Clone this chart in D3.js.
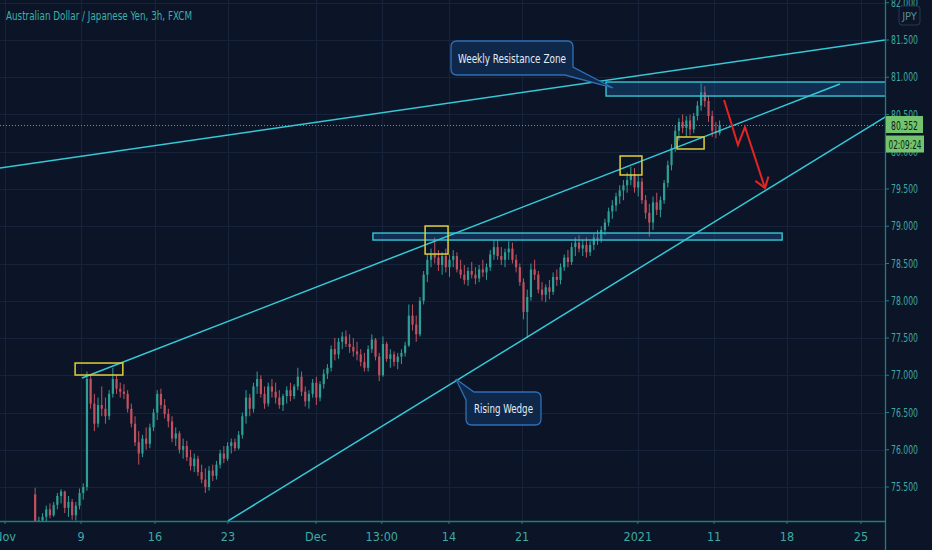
<!DOCTYPE html>
<html><head><meta charset="utf-8">
<script src="https://cdn.jsdelivr.net/npm/d3@7"></script>
<style>html,body{margin:0;padding:0;background:#0b1527;}svg{display:block}</style>
</head><body><svg id="c" width="932" height="550"></svg>
<script>
const title = "Australian Dollar / Japanese Yen, 3h, FXCM";
const currency = "JPY";
const lastPrice = 80.352;
const countdown = "02:09:24";

// OHLC (one bar per column of the picture)
const opens = [74.35,74.45,74.52,74.62,74.70,74.80,74.78,74.85,74.90,75.40,75.00,75.05,75.10,75.20,75.12,75.26,75.38,75.44,75.22,75.30,
75.12,75.25,75.42,75.50,76.95,76.62,76.35,76.60,76.55,76.45,76.75,76.95,76.82,76.78,76.75,76.55,76.35,76.10,75.95,76.15,
76.08,76.30,76.50,76.75,76.60,76.48,76.38,76.15,76.22,76.00,76.05,75.90,75.78,75.88,75.70,75.60,75.50,75.72,75.65,75.80,
75.95,75.88,76.05,76.10,76.02,76.20,76.45,76.70,76.55,76.85,76.95,76.75,76.62,76.85,76.78,76.70,76.60,76.72,76.80,76.72,
76.85,76.98,76.78,76.65,76.75,76.90,76.70,76.88,77.02,77.10,77.35,77.28,77.45,77.52,77.42,77.38,77.32,77.28,77.18,77.10,
77.35,77.48,77.25,77.00,77.42,77.22,77.28,77.18,77.25,77.30,77.40,77.80,77.68,77.55,78.00,78.35,78.55,78.62,78.58,78.48,
78.60,78.45,78.55,78.60,78.42,78.35,78.28,78.40,78.35,78.30,78.42,78.38,78.45,78.62,78.72,78.60,78.55,78.65,78.70,78.55,
78.45,78.25,77.85,78.05,78.42,78.35,78.15,78.08,78.18,78.12,78.32,78.28,78.45,78.58,78.52,78.72,78.78,78.70,78.75,78.65,
78.75,78.85,78.82,78.95,79.05,79.20,79.28,79.40,79.48,79.55,79.62,79.70,79.52,79.60,79.35,79.18,79.05,79.32,79.22,79.35,
79.58,79.82,80.05,80.28,80.40,80.32,80.42,80.30,80.48,80.62,80.80,80.68,80.48,80.28,80.25];
const highs = [74.55,74.60,74.70,74.75,74.85,74.90,74.92,74.95,74.98,75.49,75.10,75.15,75.25,75.28,75.30,75.42,75.47,75.45,75.38,75.34,
75.30,75.48,75.55,77.05,77.00,76.75,76.70,76.85,76.70,76.80,77.10,77.00,76.90,76.88,76.80,76.62,76.45,76.25,76.20,76.30,
76.35,76.55,76.80,76.82,76.68,76.55,76.45,76.30,76.25,76.15,76.12,76.00,75.95,75.92,75.80,75.75,75.78,75.80,75.85,76.00,
76.05,76.10,76.15,76.15,76.25,76.50,76.80,76.75,76.90,77.05,77.00,76.85,76.90,76.95,76.90,76.80,76.75,76.85,76.90,76.88,
77.10,77.05,76.85,76.80,76.95,76.98,76.92,77.08,77.15,77.40,77.50,77.50,77.58,77.60,77.55,77.50,77.45,77.35,77.30,77.40,
77.55,77.50,77.30,77.52,77.45,77.35,77.32,77.30,77.35,77.45,77.95,77.95,77.80,78.05,78.40,78.62,78.70,78.85,78.68,78.65,
78.70,78.62,78.68,78.65,78.55,78.48,78.45,78.52,78.45,78.48,78.55,78.50,78.68,78.82,78.82,78.72,78.70,78.80,78.78,78.62,
78.50,78.30,78.15,78.50,78.55,78.40,78.25,78.22,78.28,78.38,78.42,78.50,78.62,78.68,78.78,78.85,78.88,78.82,78.85,78.80,
78.90,78.95,79.00,79.10,79.25,79.35,79.45,79.55,79.62,79.72,79.80,79.78,79.68,79.65,79.42,79.30,79.40,79.45,79.40,79.62,
79.88,80.10,80.35,80.45,80.50,80.48,80.50,80.52,80.68,80.92,80.88,80.75,80.55,80.40,80.42];
const lows = [74.30,74.38,74.45,74.55,74.62,74.70,74.68,74.75,74.80,74.95,74.90,74.98,75.02,75.08,75.10,75.20,75.28,75.15,75.10,75.06,
75.05,75.20,75.33,75.45,76.55,76.25,76.30,76.45,76.35,76.40,76.70,76.75,76.70,76.68,76.50,76.30,76.05,75.80,75.90,76.00,
76.02,76.25,76.40,76.55,76.42,76.30,76.10,76.05,75.95,75.88,75.85,75.72,75.70,75.65,75.55,75.42,75.45,75.58,75.60,75.75,
75.82,75.85,75.95,75.98,76.00,76.15,76.35,76.45,76.50,76.75,76.70,76.55,76.58,76.70,76.62,76.55,76.52,76.62,76.65,76.68,
76.80,76.72,76.58,76.55,76.70,76.60,76.65,76.82,76.95,77.05,77.20,77.22,77.35,77.38,77.30,77.25,77.20,77.12,77.05,77.05,
77.30,77.20,76.92,76.98,77.18,77.10,77.12,77.08,77.15,77.25,77.38,77.60,77.45,77.52,77.95,78.25,78.45,78.50,78.40,78.35,
78.38,78.32,78.45,78.38,78.30,78.22,78.20,78.30,78.22,78.25,78.32,78.28,78.40,78.55,78.55,78.48,78.45,78.55,78.50,78.38,
78.20,77.75,77.50,78.00,78.28,78.10,78.00,77.98,78.02,78.08,78.20,78.22,78.40,78.45,78.48,78.60,78.65,78.60,78.58,78.60,
78.68,78.75,78.78,78.88,79.00,79.10,79.20,79.30,79.35,79.45,79.55,79.45,79.40,79.30,79.10,78.86,78.95,79.15,79.12,79.30,
79.52,79.75,80.00,80.15,80.25,80.20,80.22,80.25,80.42,80.55,80.60,80.40,80.20,80.18,80.22];
const closes = [74.45,74.52,74.62,74.70,74.80,74.78,74.85,74.90,74.92,75.00,75.05,75.10,75.20,75.12,75.26,75.38,75.44,75.22,75.30,75.12,
75.25,75.42,75.50,76.95,76.62,76.35,76.60,76.55,76.45,76.75,76.95,76.82,76.78,76.75,76.55,76.35,76.10,75.95,76.15,76.08,
76.30,76.50,76.75,76.60,76.48,76.38,76.15,76.22,76.00,76.05,75.90,75.78,75.88,75.70,75.60,75.50,75.72,75.65,75.80,75.95,
75.88,76.05,76.10,76.02,76.20,76.45,76.70,76.55,76.85,76.95,76.75,76.62,76.85,76.78,76.70,76.60,76.72,76.80,76.72,76.85,
76.98,76.78,76.65,76.75,76.90,76.70,76.88,77.02,77.10,77.35,77.28,77.45,77.52,77.42,77.38,77.32,77.28,77.18,77.10,77.35,
77.48,77.25,77.00,77.42,77.22,77.28,77.18,77.25,77.30,77.40,77.80,77.68,77.55,78.00,78.35,78.55,78.62,78.58,78.48,78.60,
78.45,78.55,78.60,78.42,78.35,78.28,78.40,78.35,78.30,78.42,78.38,78.45,78.62,78.72,78.60,78.55,78.65,78.70,78.55,78.45,
78.25,77.85,78.05,78.42,78.35,78.15,78.08,78.18,78.12,78.32,78.28,78.45,78.58,78.52,78.72,78.78,78.70,78.75,78.65,78.75,
78.85,78.82,78.95,79.05,79.20,79.28,79.40,79.48,79.55,79.62,79.70,79.52,79.60,79.35,79.18,79.05,79.32,79.22,79.35,79.58,
79.82,80.05,80.28,80.40,80.32,80.42,80.30,80.48,80.62,80.80,80.68,80.48,80.28,80.25,80.352];

const priceTicks = [75.5,76,76.5,77,77.5,78,78.5,79,79.5,80,80.5,81,81.5,82];
const dateTickPos = [0.85,21.4,41.4,61.1,84.9,102.7,120.85,140.6,171.9,192.5,212.2,232.2];
const dateTickLabels = ["Nov","9","16","23","Dec","13:00","14","21","2021","11","18","25"];

// drawings, in [bar, price]
const trendLines = [
  [[-0.5,79.782],[238.7,81.5]],
  [[21.66,76.963],[226.5,80.909]],
  [[61.12,75.044],[250,80.811]]
];
const zones = [
  {x0:100.3,x1:210.9,p0:78.909,p1:78.815},
  {x0:163.3,x1:245,p0:80.936,p1:80.748}
];
const boxes = [
  {x0:19.8,x1:32.7,p0:77.164,p1:77.003},
  {x0:114.4,x1:120.6,p0:79.003,p1:78.627},
  {x0:167.1,x1:173.0,p0:79.943,p1:79.688},
  {x0:182.5,x1:189.8,p0:80.198,p1:80.037}
];
const arrowPath = [[195.2,80.695],[198.96,80.091],[200.85,80.332],[206.26,79.513]];
const callouts = [
  {text:"Weekly Resistance Zone", tip:[165.2,80.856], tail:"br"},
  {text:"Rising Wedge", tip:[122.7,76.95], tail:"tl"}
];

const FONT = "'Liberation Sans Narrow','DejaVu Sans Condensed','Roboto Condensed',Roboto,sans-serif";
const BG = "#0b1527", GRID = "#16233a", AXIS = "#1f7f80", LBL = "#3fa9a4";
const CYAN = "#35c8d6", YEL = "#e0cf3a";
const UP = "#2e9f96", DN = "#c2515f";

const plotR = 885, plotB = 521;
const svg = d3.select("#c");
svg.append("rect").attr("width",932).attr("height",550).attr("fill",BG);

const x = d3.scaleLinear().domain([-0.5,238.7]).range([0,plotR]);
const y = d3.scaleLinear().domain([75.5,81.5]).range([487,40]);

svg.append("clipPath").attr("id","clip").append("rect").attr("x",0).attr("y",0).attr("width",plotR).attr("height",plotB);

// grid
const g = svg.append("g").attr("clip-path","url(#clip)");
g.selectAll(".hg").data(priceTicks).join("line")
  .attr("x1",0).attr("x2",plotR).attr("y1",d=>Math.round(y(d))+0.5).attr("y2",d=>Math.round(y(d))+0.5)
  .attr("stroke",GRID).attr("stroke-width",1);
g.selectAll(".vg").data(dateTickPos).join("line")
  .attr("y1",0).attr("y2",plotB).attr("x1",d=>Math.round(x(d))+0.5).attr("x2",d=>Math.round(x(d))+0.5)
  .attr("stroke",GRID).attr("stroke-width",1);

// candles
const bars = closes.map((c,i)=>({i,o:opens[i],h:highs[i],l:lows[i],c}));
const cg = g.append("g");
cg.selectAll(".w").data(bars).join("line")
  .attr("x1",d=>x(d.i)).attr("x2",d=>x(d.i)).attr("y1",d=>y(d.h)).attr("y2",d=>y(d.l))
  .attr("stroke",d=>d.c>=d.o?UP:DN).attr("stroke-width",1);
cg.selectAll(".b").data(bars).join("rect")
  .attr("x",d=>x(d.i)-1.1).attr("width",2.2)
  .attr("y",d=>y(Math.max(d.o,d.c)))
  .attr("height",d=>Math.max(1,Math.abs(y(d.o)-y(d.c))))
  .attr("fill",d=>d.c>=d.o?UP:DN);

// last price dotted line
g.append("line").attr("x1",0).attr("x2",plotR).attr("y1",y(lastPrice)).attr("y2",y(lastPrice))
  .attr("stroke","#9aa6b4").attr("stroke-width",1).attr("stroke-dasharray","1,2").attr("opacity",0.8);

// zones
g.selectAll(".z").data(zones).join("rect")
  .attr("x",d=>x(d.x0)).attr("width",d=>x(d.x1)-x(d.x0))
  .attr("y",d=>y(d.p0)).attr("height",d=>y(d.p1)-y(d.p0))
  .attr("fill","rgba(30,110,190,0.28)").attr("stroke",CYAN).attr("stroke-width",1.4);

// trend lines
g.selectAll(".tl").data(trendLines).join("line")
  .attr("x1",d=>x(d[0][0])).attr("y1",d=>y(d[0][1])).attr("x2",d=>x(d[1][0])).attr("y2",d=>y(d[1][1]))
  .attr("stroke",CYAN).attr("stroke-width",1.5);

// yellow boxes
g.selectAll(".yb").data(boxes).join("rect")
  .attr("x",d=>x(d.x0)).attr("width",d=>x(d.x1)-x(d.x0))
  .attr("y",d=>y(d.p0)).attr("height",d=>y(d.p1)-y(d.p0))
  .attr("fill","none").attr("stroke",YEL).attr("stroke-width",1.5);

// red arrow
const ap = arrowPath.map(p=>[x(p[0]),y(p[1])]);
g.append("path").attr("d",d3.line()(ap)).attr("fill","none").attr("stroke","#e42424").attr("stroke-width",2).attr("stroke-linejoin","miter");
{
  const t = ap[ap.length-1], p = ap[ap.length-2];
  const ang = Math.atan2(p[1]-t[1],p[0]-t[0]);
  const L = 12, a = 35*Math.PI/180;
  const w1 = [t[0]+L*Math.cos(ang+a), t[1]+L*Math.sin(ang+a)];
  const w2 = [t[0]+L*Math.cos(ang-a), t[1]+L*Math.sin(ang-a)];
  g.append("path").attr("d",d3.line()([w1,t,w2])).attr("fill","none").attr("stroke","#e42424").attr("stroke-width",2);
}

// callouts
function calloutPath(b, tip, side){
  const r=6, k=8, [x0,y0,x1,y1]=b;
  if(side==="br"){
    return `M${x0+r},${y0} H${x1-r} Q${x1},${y0} ${x1},${y0+r} V${y1-k} L${tip[0]},${tip[1]} L${x1-k},${y1} H${x0+r} Q${x0},${y1} ${x0},${y1-r} V${y0+r} Q${x0},${y0} ${x0+r},${y0} Z`;
  } else {
    return `M${x0+k},${y0} H${x1-r} Q${x1},${y0} ${x1},${y0+r} V${y1-r} Q${x1},${y1} ${x1-r},${y1} H${x0+r} Q${x0},${y1} ${x0},${y1-r} V${y0+k} L${tip[0]},${tip[1]} Z`;
  }
}
const co = [
  {box:[451,41,573,75], tw:108, base:63},
  {box:[466,392,541,425], tw:59, base:413}
];
callouts.forEach((c,i)=>{
  const tip=[x(c.tip[0]),y(c.tip[1])], b=co[i].box;
  svg.append("path").attr("d",calloutPath(b,tip,c.tail))
    .attr("fill","#0f2749").attr("stroke","#2f6fb8").attr("stroke-width",1.3);
  svg.append("text").attr("x",(b[0]+b[2])/2).attr("y",co[i].base).attr("text-anchor","middle")
    .attr("font-family",FONT).attr("font-size",13).attr("fill","#e3ecf5")
    .attr("textLength",co[i].tw).attr("lengthAdjust","spacingAndGlyphs").text(c.text);
});

// axes lines
svg.append("line").attr("x1",plotR+0.5).attr("x2",plotR+0.5).attr("y1",0).attr("y2",550).attr("stroke",AXIS).attr("stroke-width",1.3);
svg.append("line").attr("x1",0).attr("x2",plotR).attr("y1",plotB+0.5).attr("y2",plotB+0.5).attr("stroke",AXIS).attr("stroke-width",1.3);

// right axis ticks & labels
const fmt = d3.format(".3f");
svg.selectAll(".pt").data(priceTicks).join("line")
  .attr("x1",plotR).attr("x2",plotR+4).attr("y1",d=>y(d)).attr("y2",d=>y(d)).attr("stroke",AXIS);
svg.selectAll(".pl").data(priceTicks).join("text")
  .attr("x",891).attr("y",d=>y(d)+4).attr("font-family",FONT).attr("font-size",11.5).attr("fill",LBL)
  .attr("textLength",27).attr("lengthAdjust","spacingAndGlyphs").text(d=>fmt(d));

// bottom ticks & labels
svg.selectAll(".dt").data(dateTickPos).join("line")
  .attr("x1",d=>x(d)).attr("x2",d=>x(d)).attr("y1",plotB).attr("y2",plotB+3).attr("stroke",AXIS);
svg.selectAll(".dl").data(dateTickPos).join("text")
  .attr("x",d=>x(d)).attr("y",541).attr("text-anchor","middle")
  .attr("font-family",FONT).attr("font-size",12.5).attr("fill",LBL)
  .text((d,i)=>dateTickLabels[i]);

// currency box
svg.append("rect").attr("x",899).attr("y",6).attr("width",21).attr("height",19).attr("rx",3)
  .attr("fill",BG).attr("stroke","#25384c").attr("stroke-width",1);
svg.append("text").attr("x",909.5).attr("y",20).attr("text-anchor","middle").attr("font-family",FONT)
  .attr("font-size",11).attr("fill","#5a8f9a").text(currency);

// price & countdown labels
svg.append("rect").attr("x",886).attr("y",y(lastPrice)-9.5).attr("width",37).attr("height",17).attr("fill","#74c46f");
svg.append("text").attr("x",904.5).attr("y",y(lastPrice)+4.5).attr("text-anchor","middle").attr("font-family",FONT)
  .attr("font-size",11.5).attr("fill","#0c2410").attr("textLength",27).attr("lengthAdjust","spacingAndGlyphs").text(fmt(lastPrice));
svg.append("rect").attr("x",886).attr("y",y(lastPrice)+10).attr("width",38).attr("height",17).attr("fill","#74c46f");
svg.append("text").attr("x",905).attr("y",y(lastPrice)+23).attr("text-anchor","middle").attr("font-family",FONT)
  .attr("font-size",11.5).attr("fill","#0c2410").attr("textLength",33).attr("lengthAdjust","spacingAndGlyphs").text(countdown);

// title
svg.append("text").attr("x",6).attr("y",20).attr("font-family",FONT).attr("font-size",12.5).attr("fill","#3cb1a8")
  .attr("textLength",186).attr("lengthAdjust","spacingAndGlyphs").text(title);
</script></body></html>
